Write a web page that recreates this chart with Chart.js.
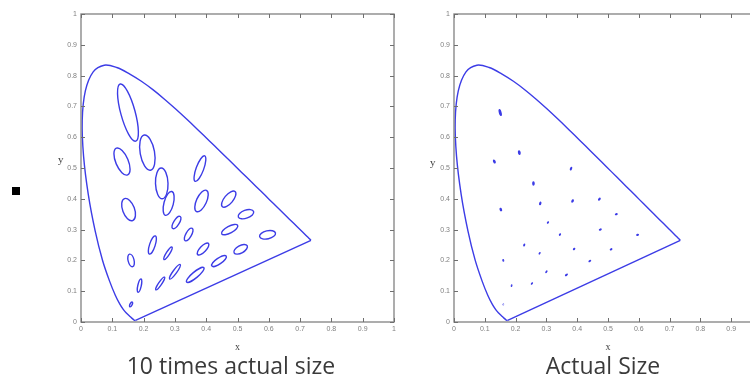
<!DOCTYPE html>
<html>
<head>
<meta charset="utf-8">
<script src="https://cdn.jsdelivr.net/npm/chart.js@4.4.0/dist/chart.umd.min.js"></script>
<style>
  html, body { margin: 0; padding: 0; background: #fff; overflow: hidden; width: 750px; height: 377px; }
  #wrap { position: relative; width: 750px; height: 377px; }
  canvas { position: absolute; top: 0; }
  .lbl { position: absolute; white-space: nowrap; }
  .ylab { font-family: "Liberation Serif", "DejaVu Serif", serif; font-size: 11px; color: #444; }
  .cap { font-family: "Open Sans", sans-serif; font-size: 23px; color: #3a3a3a; transform: translateX(-50%); line-height: 23px; }
  #bullet { position: absolute; left: 12px; top: 187px; width: 8px; height: 8px; background: #000; }
</style>
</head>
<body>
<div id="wrap">
  <div id="bullet"></div>
  <canvas id="leftChart" width="410" height="377" style="left:0px;width:410px;height:377px"></canvas>
  <canvas id="rightChart" width="380" height="377" style="left:400px;width:380px;height:377px"></canvas>
  <div class="lbl ylab" style="left:58px;top:153px">y</div>
  <div class="lbl ylab" style="left:430px;top:156px">y</div>
  <div class="lbl cap" style="left:231px;top:354px">10 times actual size</div>
  <div class="lbl cap" style="left:603px;top:354px">Actual Size</div>
</div>
<script>
// spectral locus, 380 nm .. 700 nm (CIE 1931 x, y)
const locusX = [0.1741, 0.1733, 0.1714, 0.1689, 0.1644, 0.1566, 0.1440, 0.1355, 0.1241, 0.1096,
  0.0913, 0.0687, 0.0454, 0.0235, 0.0082, 0.0039, 0.0139, 0.0389, 0.0743, 0.1142,
  0.1547, 0.1929, 0.2296, 0.2658, 0.3016, 0.3373, 0.3731, 0.4087, 0.4441, 0.4788,
  0.5125, 0.5448, 0.5752, 0.6029, 0.6270, 0.6482, 0.6658, 0.6915, 0.7079, 0.7190,
  0.7260, 0.7300, 0.7347];
const locusY = [0.0050, 0.0048, 0.0051, 0.0069, 0.0109, 0.0177, 0.0297, 0.0399, 0.0578, 0.0868,
  0.1327, 0.2007, 0.2950, 0.4127, 0.5384, 0.6548, 0.7502, 0.8120, 0.8338, 0.8262,
  0.8059, 0.7816, 0.7543, 0.7243, 0.6923, 0.6589, 0.6245, 0.5896, 0.5547, 0.5202,
  0.4866, 0.4544, 0.4242, 0.3965, 0.3725, 0.3514, 0.3340, 0.3083, 0.2920, 0.2809,
  0.2740, 0.2700, 0.2653];
// line of purples: 700 nm back to 380 nm
const purpleX = [0.7347, 0.1741];
const purpleY = [0.2653, 0.0050];

// ellipse centres, semi axes (x 1e-3) and angle (deg)
const ellX = [0.160, 0.187, 0.253, 0.150, 0.131, 0.212, 0.258, 0.152, 0.280, 0.380,
  0.160, 0.228, 0.305, 0.385, 0.472, 0.527, 0.475, 0.510, 0.596, 0.344,
  0.390, 0.441, 0.278, 0.300, 0.365];
const ellY = [0.057, 0.118, 0.125, 0.680, 0.521, 0.550, 0.450, 0.365, 0.385, 0.498,
  0.200, 0.250, 0.323, 0.393, 0.399, 0.350, 0.300, 0.236, 0.283, 0.284,
  0.237, 0.198, 0.223, 0.163, 0.153];
const ellA = [0.85, 2.2, 2.5, 9.6, 4.7, 5.8, 5.0, 3.8, 4.0, 4.4,
  2.1, 3.1, 2.3, 3.8, 3.2, 2.6, 2.9, 2.4, 2.6, 2.3,
  2.5, 2.8, 2.4, 2.9, 3.6];
const ellB = [0.35, 0.55, 0.50, 2.3, 2.0, 2.3, 2.0, 1.9, 1.5, 1.2,
  0.95, 0.9, 0.9, 1.6, 1.4, 1.3, 1.1, 1.2, 1.3, 0.9,
  1.0, 0.95, 0.55, 0.6, 0.95];
const ellAngle = [62.5, 77, 55.5, 105, 112.5, 100, 92, 110, 75.5, 70,
  104, 72, 58, 65.5, 51, 20, 28.5, 29.5, 13, 60,
  47, 34.5, 57.5, 54, 40];

const BLUE = '#3c3ce6';

function pts(xs, ys) {
  return xs.map((x, i) => ({ x: x, y: ys[i] }));
}

// MacAdam ellipses, drawn through the chart scales
const ellipsePlugin = {
  id: 'ellipses',
  afterDatasetsDraw(chart, args, opts) {
    const ctx = chart.ctx, xs = chart.scales.x, ys = chart.scales.y;
    const sx = xs.getPixelForValue(1) - xs.getPixelForValue(0);
    const sy = ys.getPixelForValue(0) - ys.getPixelForValue(1);
    ctx.strokeStyle = BLUE;
    ctx.fillStyle = BLUE;
    ctx.lineWidth = 1.4;
    for (let i = 0; i < ellX.length; i++) {
      ctx.save();
      ctx.translate(xs.getPixelForValue(ellX[i]), ys.getPixelForValue(ellY[i]));
      ctx.scale(sx, -sy);
      ctx.rotate(ellAngle[i] * Math.PI / 180);
      ctx.beginPath();
      ctx.ellipse(0, 0, ellA[i] * 1e-3 * opts.factor, ellB[i] * 1e-3 * opts.factor, 0, 0, Math.PI * 2);
      ctx.restore();
      ctx.stroke();
      if (opts.factor < 2) ctx.fill();
    }
  }
};

// MATLAB style box with inner ticks
const boxPlugin = {
  id: 'box',
  afterDraw(chart) {
    const ctx = chart.ctx, a = chart.chartArea;
    const xs = chart.scales.x, ys = chart.scales.y;
    ctx.save();
    ctx.strokeStyle = '#8a8a8a';
    ctx.lineWidth = 1.4;
    ctx.strokeRect(a.left, a.top, a.right - a.left, a.bottom - a.top);
    ctx.lineWidth = 1;
    ctx.strokeStyle = '#6f6f6f';
    ctx.beginPath();
    xs.ticks.forEach(t => {
      const p = Math.round(xs.getPixelForValue(t.value)) + 0.5;
      ctx.moveTo(p, a.bottom); ctx.lineTo(p, a.bottom - 4);
      ctx.moveTo(p, a.top); ctx.lineTo(p, a.top + 4);
    });
    ys.ticks.forEach(t => {
      const p = Math.round(ys.getPixelForValue(t.value)) + 0.5;
      ctx.moveTo(a.left, p); ctx.lineTo(a.left + 4, p);
      ctx.moveTo(a.right, p); ctx.lineTo(a.right - 4, p);
    });
    ctx.stroke();
    ctx.restore();
  }
};

function tickLabel(v) {
  if (v === 0) return '0';
  if (Math.abs(v - 1) < 1e-9) return '1';
  return v.toFixed(1);
}

function makeChart(id, factor, padding) {
  const tickFont = { family: 'Liberation Sans, Arial, sans-serif', size: 7 };
  return new Chart(document.getElementById(id), {
    type: 'scatter',
    data: {
      datasets: [
        { data: pts(locusX, locusY), showLine: true, pointRadius: 0, borderColor: BLUE, borderWidth: 1.4, tension: 0.35 },
        { data: pts(purpleX, purpleY), showLine: true, pointRadius: 0, borderColor: BLUE, borderWidth: 1.4, tension: 0 }
      ]
    },
    options: {
      responsive: false,
      animation: false,
      layout: { padding: padding },
      plugins: { legend: { display: false }, tooltip: { enabled: false }, ellipses: { factor: factor } },
      scales: {
        x: {
          type: 'linear', min: 0, max: 1,
          ticks: { stepSize: 0.1, font: tickFont, color: '#808080', padding: 3, maxRotation: 0, callback: tickLabel },
          grid: { display: false, drawTicks: false },
          border: { display: false },
          title: { display: true, text: 'x', color: '#444', font: { family: 'Liberation Serif, serif', size: 10 }, padding: 0 },
          afterFit: s => { s.height = 31; }
        },
        y: {
          type: 'linear', min: 0, max: 1,
          ticks: { stepSize: 0.1, font: tickFont, color: '#808080', padding: 4, callback: tickLabel },
          grid: { display: false, drawTicks: false },
          border: { display: false },
          afterFit: s => { s.width = 20; }
        }
      }
    },
    plugins: [ellipsePlugin, boxPlugin]
  });
}

makeChart('leftChart', 10, { left: 61, right: 16, top: 14, bottom: 24 });
makeChart('rightChart', 1, { left: 34, right: 18, top: 14, bottom: 24 });
</script>
</body>
</html>
